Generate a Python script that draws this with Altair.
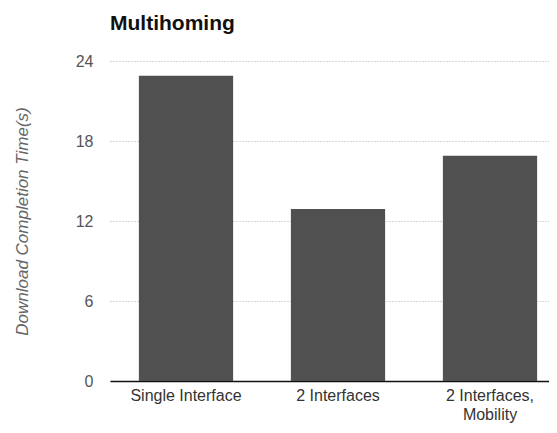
import altair as alt
import pandas as pd

categories = ["Single Interface", "2 Interfaces", "2 Interfaces, Mobility"]
values = [22.9, 12.9, 16.9]
y_ticks = [0, 6, 12, 18, 24]

df = pd.DataFrame({"scenario": categories, "time": values})

FONT = "Liberation Sans"

bars = alt.Chart(df).mark_bar(color="#505050").encode(
    x=alt.X(
        "scenario:N",
        sort=categories,
        title=None,
        scale=alt.Scale(range=[0, 456], paddingInner=0.38, paddingOuter=0.19),
        axis=alt.Axis(
            labelAngle=0,
            labelFontSize=16,
            labelColor="#333333",
            labelFont=FONT,
            labelPadding=6,
            labelLineHeight=19,
            labelExpr="datum.label == '2 Interfaces, Mobility' ? ['2 Interfaces,', 'Mobility'] : datum.label",
            ticks=False,
            domainColor="#111111",
            domainWidth=1.5,
            grid=False,
        ),
    ),
    y=alt.Y(
        "time:Q",
        title="Download Completion Time(s)",
        scale=alt.Scale(domain=[0, 24], nice=False),
        axis=alt.Axis(
            values=y_ticks,
            labelFontSize=16,
            labelColor="#555555",
            labelFont=FONT,
            labelPadding=17,
            ticks=False,
            domain=False,
            grid=True,
            gridColor="#aaaaaa",
            gridDash=[1, 2],
            gridWidth=1,
            titleFont=FONT,
            titleFontSize=17,
            titleFontStyle="italic",
            titleFontWeight="normal",
            titleColor="#666666",
            titleX=-88,
            titleY=160,
            titleAngle=270,
            titleAlign="center",
            titleBaseline="middle",
        ),
    ),
)

chart = bars.properties(
    width=439,
    height=320,
    autosize=alt.AutoSizeParams(type="none"),
    padding={"left": 102, "top": 53, "right": 0, "bottom": 44},
    title=alt.TitleParams(
        "Multihoming",
        anchor="start",
        frame="group",
        font=FONT,
        fontSize=21,
        fontWeight="bold",
        color="#111111",
        baseline="alphabetic",
        offset=2,
    ),
).configure_view(stroke=None)

chart.save("out.html", embed_options={"renderer": "svg", "actions": False})
